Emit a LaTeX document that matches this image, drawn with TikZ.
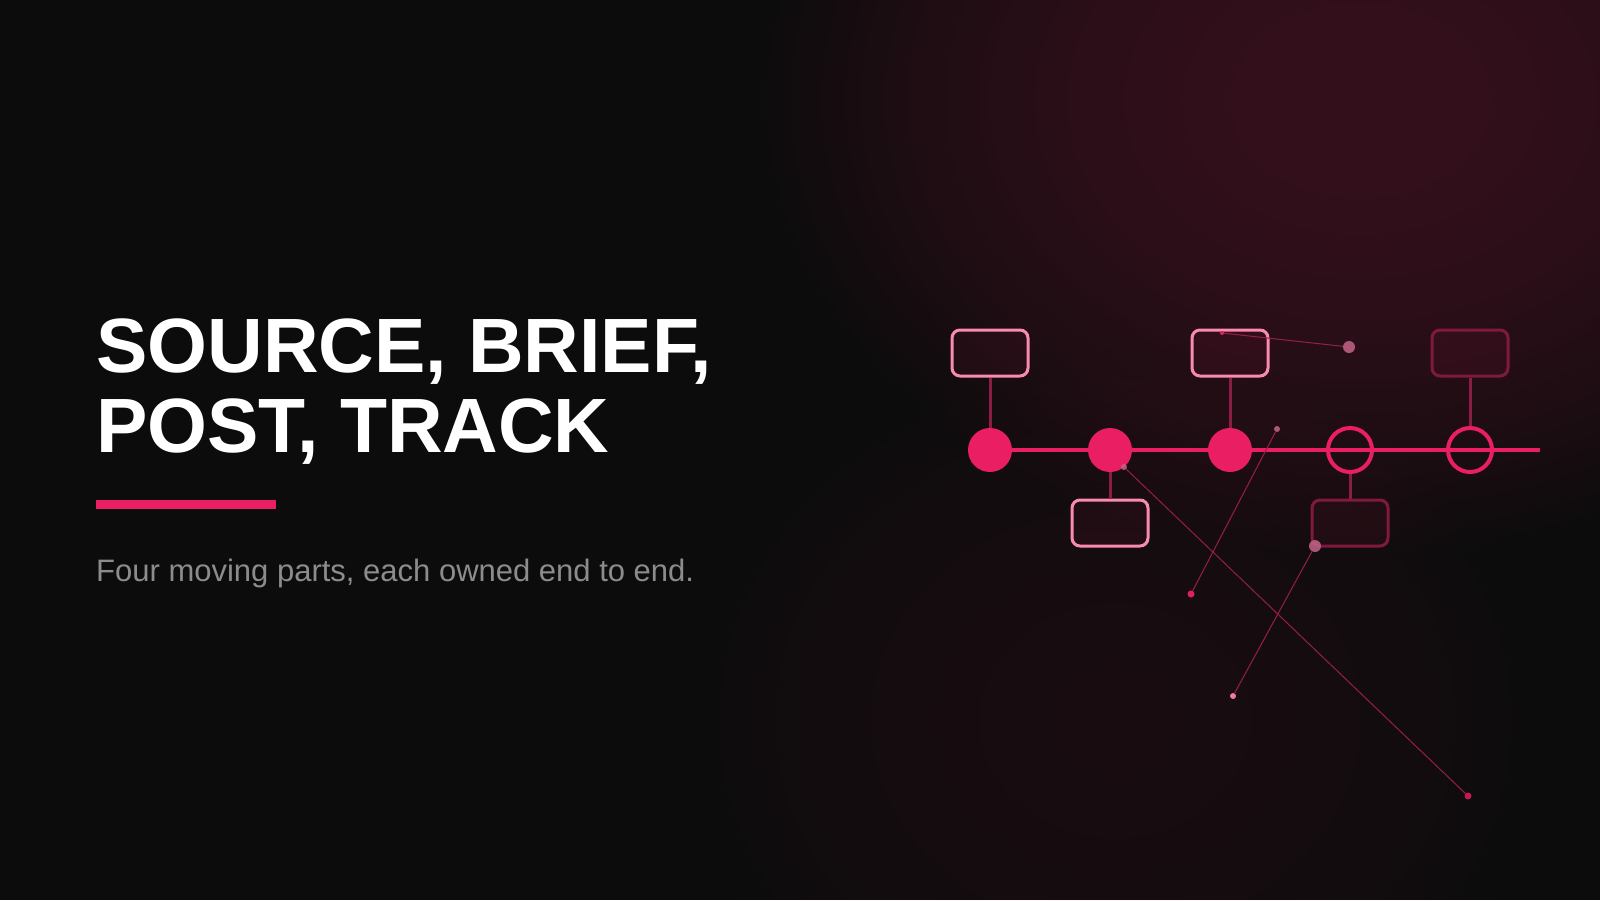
\documentclass[tikz,border=0pt]{standalone}
\usepackage{fontspec}
\setmainfont{Liberation Sans}
\usetikzlibrary{fadings}
\definecolor{bgc}{HTML}{0C0C0C}
\definecolor{pinkc}{HTML}{E91E63}
\definecolor{lightpink}{HTML}{F98AB2}
\definecolor{darkpink}{HTML}{7F1A3E}
\definecolor{stemc}{HTML}{8A1C46}
\definecolor{subc}{HTML}{8C8C8C}
\definecolor{linec}{HTML}{981D4C}
\definecolor{dotgray}{HTML}{C4648A}
\definecolor{dotlight}{HTML}{F07AA0}
\definecolor{dotbright}{HTML}{E0205F}
\pgfdeclareradialshading{glowmask}{\pgfpointorigin}{color(0bp)=(pgftransparent!0); color(6bp)=(pgftransparent!6); color(12bp)=(pgftransparent!23); color(18bp)=(pgftransparent!52); color(25bp)=(pgftransparent!100); color(50bp)=(pgftransparent!100)}
\pgfdeclarefading{glowfade}{\pgfuseshading{glowmask}}
\begin{document}
\begin{tikzpicture}[x=1pt,y=-1pt,
  card/.style={draw, line width=3pt, rounded corners=8pt, minimum width=76pt, minimum height=46pt, inner sep=0pt, fill=pinkc, fill opacity=0.06},
  litecard/.style={card, draw=lightpink},
  darkcard/.style={card, draw=darkpink},
  fullnode/.style={circle, fill=pinkc, minimum size=44pt, inner sep=0pt},
  opennode/.style={circle, draw=pinkc, line width=4pt, minimum size=44pt, inner sep=0pt},
  stem/.style={draw=stemc, line width=3pt},
  rail/.style={draw=pinkc, line width=4pt},
  wire/.style={draw=linec, line width=1pt},
  dot/.style={circle, inner sep=0pt, minimum size=#1},
  dot/.default=6pt]
% background
\fill[bgc] (0,0) rectangle (1600,900);
\useasboundingbox (0,0) rectangle (1600,900);
% glows
\fill[pinkc, fill opacity=0.18, path fading=glowfade] (1360,100) ellipse [x radius=610, y radius=460];
\fill[pinkc, fill opacity=0.055, path fading=glowfade] (1115,720) ellipse [x radius=440, y radius=380];
% left text
\node[anchor=base west, inner sep=0pt, text=white, font=\bfseries\fontsize{77}{80}\selectfont] (t1) at (96,372) {SOURCE, BRIEF,};
\node[anchor=base west, inner sep=0pt, text=white, font=\bfseries\fontsize{77}{80}\selectfont] (t2) at (96,452) {POST, TRACK};
\node[fill=pinkc, minimum width=180pt, minimum height=9pt, inner sep=0pt, anchor=north west] (bar) at (96,500) {};
\node[anchor=base west, inner sep=0pt, text=subc, font=\fontsize{31}{36}\selectfont] (sub) at (96,581) {Four moving parts, each owned end to end.};
% timeline
\coordinate (c1pos) at (990,450);
\coordinate (tlend) at (1540,450);
\draw[rail] (c1pos) -- (tlend);
% cards
\node[litecard] (b1) at (990,353) {};
\node[litecard] (b2) at (1110,523) {};
\node[litecard] (b3) at (1230,353) {};
\node[darkcard] (b4) at (1350,523) {};
\node[darkcard] (b5) at (1470,353) {};
% milestones
\node[fullnode] (c1) at (990,450) {};
\node[fullnode] (c2) at (1110,450) {};
\node[fullnode] (c3) at (1230,450) {};
\node[opennode] (c4) at (1350,450) {};
\node[opennode] (c5) at (1470,450) {};
% stems
\draw[stem] (b1.south) -- (c1.north);
\draw[stem] (c2.south) -- (b2.north);
\draw[stem] (b3.south) -- (c3.north);
\draw[stem] (c4.south) -- (b4.north);
\draw[stem] (b5.south) -- (c5.north);
% floating dots
\node[dot=4pt, fill=dotbright] (d1) at (1222,333) {};
\node[dot=12pt, fill=dotgray, fill opacity=0.85] (d2) at (1349,347) {};
\node[dot=6pt, fill=dotgray, fill opacity=0.85] (d3) at (1124,467) {};
\node[dot=7pt, fill=dotbright!85!black] (d4) at (1468,796) {};
\node[dot=6pt, fill=dotgray, fill opacity=0.85] (d5) at (1277,429) {};
\node[dot=7pt, fill=dotbright] (d6) at (1191,594) {};
\node[dot=12pt, fill=dotgray, fill opacity=0.85] (d7) at (1315,546) {};
\node[dot=6pt, fill=dotlight] (d8) at (1233,696) {};
% wires
\draw[wire] (d1) -- (d2);
\draw[wire] (d3) -- (d4);
\draw[wire] (d5) -- (d6);
\draw[wire] (d7) -- (d8);
\end{tikzpicture}
\end{document}
